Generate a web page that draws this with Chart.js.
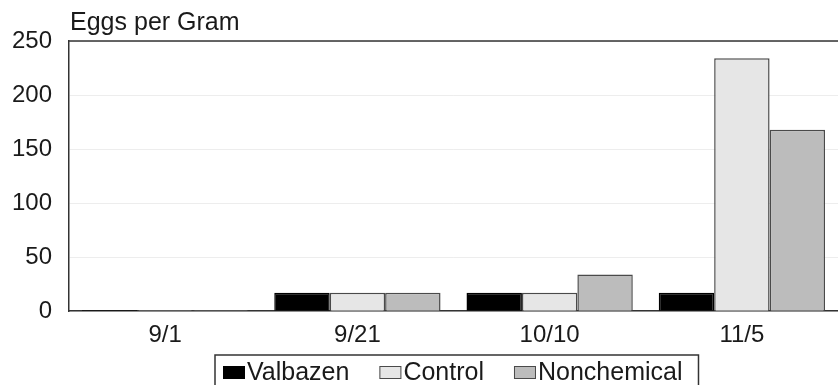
<!DOCTYPE html>
<html>
<head>
<meta charset="utf-8">
<script src="https://cdn.jsdelivr.net/npm/chart.js@4/dist/chart.umd.min.js"></script>
<style>
  html, body { margin: 0; padding: 0; background: #fff; }
  #wrap { width: 838px; height: 385px; }
</style>
</head>
<body>
<div id="wrap"><canvas id="c" width="838" height="385"></canvas></div>
<script>
// Sampling dates
const dates = ['9/1', '9/21', '10/10', '11/5'];
// Fecal egg counts (eggs per gram) for each treatment group
const valbazen = [1, 17, 17, 17];
const control = [1, 17, 17, 234];
const nonchemical = [1, 17, 34, 168];
const yTicks = [0, 50, 100, 150, 200, 250];
const yTitle = 'Eggs per Gram';

const FONT = 'Liberation Sans, Arial, sans-serif';
const TXT = '#1a1a1a';

// Axis title above the plot, plus a top frame line
const framePlugin = {
  id: 'frame',
  afterDraw(chart) {
    const { ctx, chartArea: a } = chart;
    ctx.save();
    ctx.strokeStyle = '#333';
    ctx.lineWidth = 1.5;
    ctx.beginPath();
    ctx.moveTo(a.left, a.top);
    ctx.lineTo(chart.width, a.top);
    ctx.stroke();
    ctx.fillStyle = TXT;
    ctx.font = '25px ' + FONT;
    ctx.textBaseline = 'alphabetic';
    ctx.textAlign = 'left';
    ctx.fillText(yTitle, a.left + 1, 30);
    ctx.restore();
  }
};

// Boxed legend under the axis labels
const boxLegend = {
  id: 'boxLegend',
  afterDraw(chart) {
    const { ctx } = chart;
    const ds = chart.data.datasets;
    ctx.save();
    ctx.font = '25px ' + FONT;
    const sw = 22, swh = 13, gapT = 2, gapItem = 30, padL = 8, padR = 16;
    let total = padL + padR;
    ds.forEach((d, i) => {
      total += sw + gapT + ctx.measureText(d.label).width;
      if (i < ds.length - 1) total += gapItem;
    });
    const left = 215, top = 355;
    ctx.strokeStyle = '#333';
    ctx.lineWidth = 1.5;
    ctx.strokeRect(left, top, total, 60);
    let x = left + padL;
    ds.forEach((d) => {
      ctx.fillStyle = d.backgroundColor;
      ctx.fillRect(x, 366, sw, swh);
      ctx.strokeStyle = d.borderColor;
      ctx.lineWidth = 1;
      ctx.strokeRect(x + 0.5, 366.5, sw - 1, swh - 1);
      x += sw + gapT;
      ctx.fillStyle = TXT;
      ctx.textBaseline = 'alphabetic';
      ctx.fillText(d.label, x, 380);
      x += ctx.measureText(d.label).width + gapItem;
    });
    ctx.restore();
  }
};

new Chart(document.getElementById('c'), {
  type: 'bar',
  data: {
    labels: dates,
    datasets: [
      { label: 'Valbazen', data: valbazen, backgroundColor: '#000000', borderColor: '#000000', borderWidth: 1.5 },
      { label: 'Control', data: control, backgroundColor: '#e6e6e6', borderColor: '#4a4a4a', borderWidth: 1.5 },
      { label: 'Nonchemical', data: nonchemical, backgroundColor: '#bcbcbc', borderColor: '#4a4a4a', borderWidth: 1.5 }
    ]
  },
  options: {
    responsive: false,
    animation: false,
    devicePixelRatio: 1,
    layout: { padding: { top: 41, left: -5, right: 0, bottom: 25 } },
    datasets: { bar: { categoryPercentage: 0.865, barPercentage: 1.0 } },
    plugins: {
      legend: { display: false },
      title: { display: false },
      tooltip: { enabled: false }
    },
    scales: {
      x: {
        grid: { display: false, drawTicks: false },
        border: { display: true, color: '#333', width: 1.5 },
        ticks: { color: TXT, font: { family: FONT, size: 24 }, padding: 10, maxRotation: 0 }
      },
      y: {
        min: 0,
        max: 250,
        afterBuildTicks(scale) { scale.ticks = yTicks.map(v => ({ value: v })); },
        grid: { color: 'rgba(0,0,0,0.07)', drawTicks: false },
        border: { display: true, color: '#333', width: 1.5 },
        ticks: { color: TXT, font: { family: FONT, size: 24 }, padding: 17 }
      }
    }
  },
  plugins: [framePlugin, boxLegend]
});
</script>
</body>
</html>
